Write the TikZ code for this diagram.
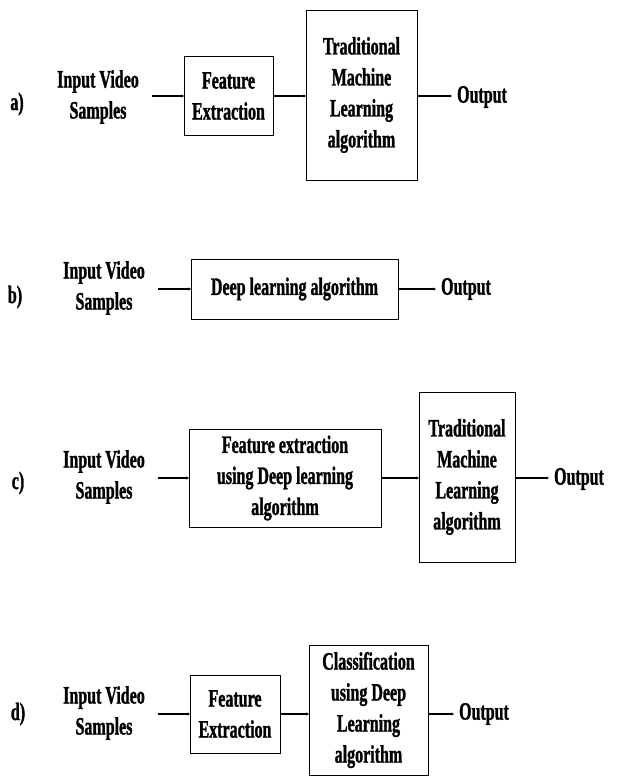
\documentclass[tikz,border=0pt]{standalone}
\usepackage{fontspec}
\setmainfont{Liberation Serif}[FakeStretch=0.64, BoldFeatures={FakeBold=1.2}]
\usepackage{tikz}
\usetikzlibrary{arrows.meta}

\begin{document}
\begin{tikzpicture}[x=1pt,y=-1pt,font=\fontsize{25}{31}\selectfont\bfseries]
          \tikzstyle{box} = [draw, line width=1pt, align=center, inner sep=0pt, outer sep=0pt]
          \tikzstyle{txt} = [align=center, inner sep=5pt]
          \tikzstyle{src} = [align=center, inner ysep=5pt, inner xsep=13pt]
          \tikzstyle{arr} = [line width=1.2pt, -{Stealth[length=2.5pt,width=3pt]}]
        \useasboundingbox (0,0) rectangle (621,780);
        % a)
        \node[txt] (la) at (17,104) {a)};
        \node[src] (ina) at (98,97) {Input Video\\Samples};
        \node[box, minimum width=89, minimum height=79] (fea) at (228.5,96) {Feature\\Extraction};
        \node[box, minimum width=111, minimum height=170] (mla) at (361.5,95) {Traditional\\Machine\\Learning\\algorithm};
        \node[txt] (outa) at (482,97) {Output};
        % b)
        \node[txt] (lb) at (15,297) {b)};
        \node[src] (inb) at (104,288) {Input Video\\Samples};
        \node[box, minimum width=207, minimum height=60] (dlb) at (294.5,289) {Deep learning algorithm};
        \node[txt] (outb) at (466,289) {Output};
        % c)
        \node[txt] (lc) at (18,483) {c)};
        \node[src] (inc) at (104,477) {Input Video\\Samples};
        \node[box, minimum width=192, minimum height=98] (fec) at (285,478) {Feature extraction\\using Deep learning\\algorithm};
        \node[box, minimum width=96, minimum height=170] (mlc) at (467,477) {Traditional\\Machine\\Learning\\algorithm};
        \node[txt] (outc) at (579,479) {Output};
        % d)
        \node[txt] (ld) at (18,714) {d)};
        \node[src] (ind) at (104,713) {Input Video\\Samples};
        \node[box, minimum width=90, minimum height=78] (fed) at (235,714) {Feature\\Extraction};
        \node[box, minimum width=119, minimum height=130] (cld) at (368.5,710) {Classification\\using Deep\\Learning\\algorithm};
        \node[txt] (outd) at (484,714) {Output};
        \begin{scope}
          \draw[arr] (ina.east |- fea) -- (fea.west);
          \draw[arr] (fea.east) -- (fea.east -| mla.west);
          \draw[arr] (fea.east -| mla.east) -- (outa.west |- fea);
          \draw[arr] (inb.east |- dlb) -- (dlb.west);
          \draw[arr] (dlb.east) -- (outb.west);
          \draw[arr] (inc.east |- fec) -- (fec.west);
          \draw[arr] (fec.east) -- (fec.east -| mlc.west);
          \draw[arr] (fec.east -| mlc.east) -- (outc.west |- fec);
          \draw[arr] (ind.east |- fed) -- (fed.west);
          \draw[arr] (fed.east) -- (fed.east -| cld.west);
          \draw[arr] (fed.east -| cld.east) -- (outd.west |- fed);
        \end{scope}
\end{tikzpicture}
\end{document}
